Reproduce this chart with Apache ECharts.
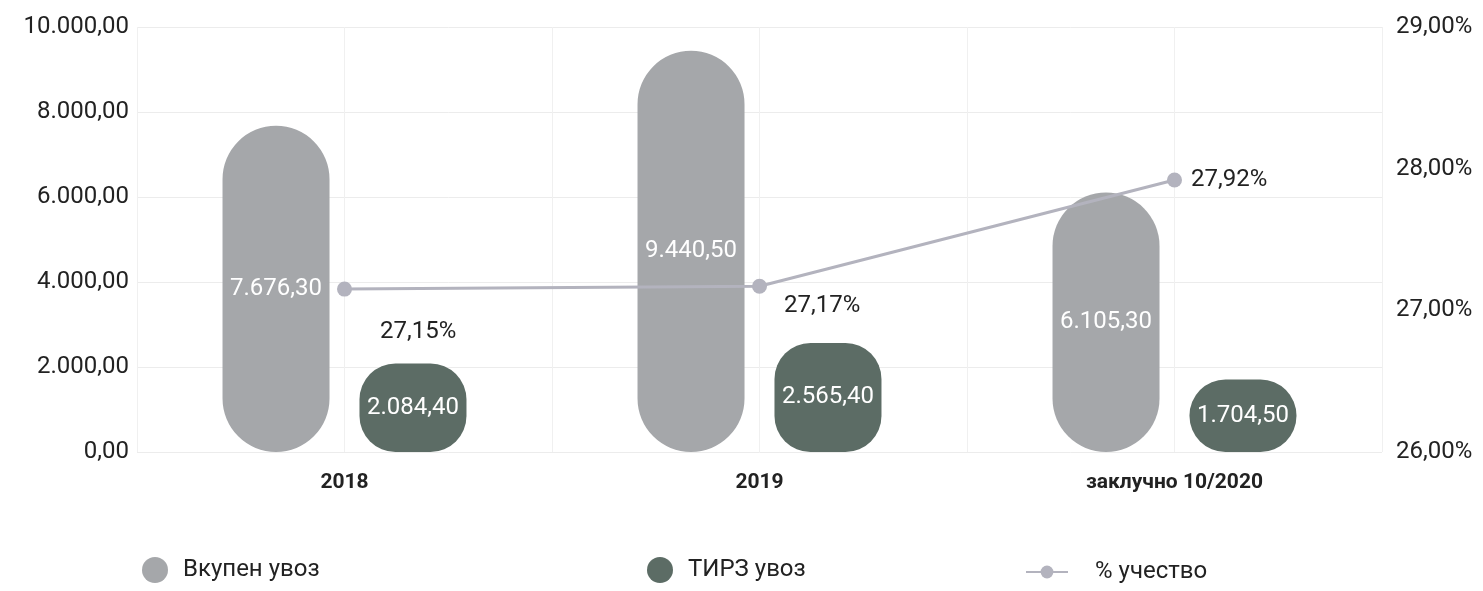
<!DOCTYPE html>
<html>
<head>
<meta charset="utf-8">
<script src="https://cdn.jsdelivr.net/npm/echarts@6/dist/echarts.min.js"></script>
<style>
  html, body { margin: 0; padding: 0; background: #fff; }
  #chart { width: 1483px; height: 591px; }
</style>
</head>
<body>
<div id="chart"></div>
<script>
// Data
const categories = ['2018', '2019', 'заклучно 10/2020'];
const vkupenUvoz = [7676.30, 9440.50, 6105.30];
const tirzUvoz = [2084.40, 2565.40, 1704.50];
const ucestvo = [27.15, 27.17, 27.92];

const GRAY = '#a5a7aa';
const DARK = '#5c6c65';
const LINE = '#b3b3be';
const FONT = 'Roboto';

// 10000 -> "10.000,00"
const fmtNum = (v) => {
  const parts = Number(v).toFixed(2).split('.');
  parts[0] = parts[0].replace(/\B(?=(\d{3})+(?!\d))/g, '.');
  return parts.join(',');
};
const fmtPct = (v) => Number(v).toFixed(2).replace('.', ',') + '%';

// label nudges for the line points (style only)
const lineLabelOffsets = [[23, 43], [12, 20], [4, 0]];

const chart = echarts.init(document.getElementById('chart'));

const option = {
  backgroundColor: '#fff',
  textStyle: { fontFamily: FONT },
  grid: { left: 137, right: 101, top: 27, bottom: 139 },
  legend: [
    {
      left: 137, top: 552,
      itemWidth: 26, itemHeight: 26,
      data: [{ name: 'Вкупен увоз', icon: 'circle' }],
      textStyle: { fontSize: 24, color: '#222', fontFamily: FONT, padding: [0, 0, 0, 10] },
    },
    {
      left: 642, top: 552,
      itemWidth: 26, itemHeight: 26,
      data: [{ name: 'ТИРЗ увоз', icon: 'circle' }],
      textStyle: { fontSize: 24, color: '#222', fontFamily: FONT, padding: [0, 0, 0, 10] },
    },
    {
      left: 1020, top: 555,
      itemWidth: 42, itemHeight: 16,
      data: ['% учество'],
      textStyle: { fontSize: 24, color: '#222', fontFamily: FONT, padding: [0, 0, 0, 22] },
    },
  ],
  xAxis: [
    {
      type: 'category',
      data: categories,
      axisLine: { show: false },
      axisTick: { show: false },
      axisLabel: { color: '#222', fontSize: 21, fontWeight: 'bold', fontFamily: FONT, margin: 20 },
      splitLine: { show: true, lineStyle: { color: '#ececec', width: 1 } },
    },
    {
      // only used for the faint vertical lines through category centres
      type: 'value', min: 0, max: 6, interval: 1,
      position: 'bottom',
      axisLine: { show: false }, axisTick: { show: false }, axisLabel: { show: false },
      splitLine: { show: true, lineStyle: { color: '#f0f0f0', width: 1 } },
    },
  ],
  yAxis: [
    {
      type: 'value',
      min: 0, max: 10000, interval: 2000,
      axisLine: { show: false }, axisTick: { show: false },
      axisLabel: { color: '#222', fontSize: 24, fontFamily: FONT, margin: 8, formatter: fmtNum },
      splitLine: { show: true, lineStyle: { color: '#ececec', width: 1 } },
    },
    {
      type: 'value',
      min: 26, max: 29, interval: 1,
      position: 'right',
      axisLine: { show: false }, axisTick: { show: false },
      axisLabel: { color: '#222', fontSize: 24, fontFamily: FONT, margin: 14, formatter: fmtPct },
      splitLine: { show: false },
    },
  ],
  series: [
    {
      name: 'Вкупен увоз',
      type: 'bar',
      data: vkupenUvoz,
      barWidth: 107,
      barGap: '28%',
      itemStyle: { color: GRAY, borderRadius: 54 },
      label: {
        show: true, position: 'inside', color: '#fff',
        fontSize: 24, fontFamily: FONT, formatter: (p) => fmtNum(p.value),
      },
      z: 2,
    },
    {
      name: 'ТИРЗ увоз',
      type: 'bar',
      data: tirzUvoz,
      barWidth: 107,
      itemStyle: { color: DARK, borderRadius: 36 },
      label: {
        show: true, position: 'inside', color: '#fff',
        fontSize: 24, fontFamily: FONT, formatter: (p) => fmtNum(p.value),
      },
      z: 2,
    },
    {
      name: '% учество',
      type: 'line',
      yAxisIndex: 1,
      data: ucestvo.map((v, i) => ({
        value: v,
        label: { offset: lineLabelOffsets[i] },
      })),
      symbol: 'circle',
      symbolSize: 15,
      lineStyle: { color: LINE, width: 3 },
      itemStyle: { color: LINE },
      label: {
        show: true, position: 'right', color: '#222',
        fontSize: 24, fontFamily: FONT, formatter: (p) => fmtPct(p.value),
      },
      z: 5,
    },
  ],
};

chart.setOption(option);
</script>
</body>
</html>
